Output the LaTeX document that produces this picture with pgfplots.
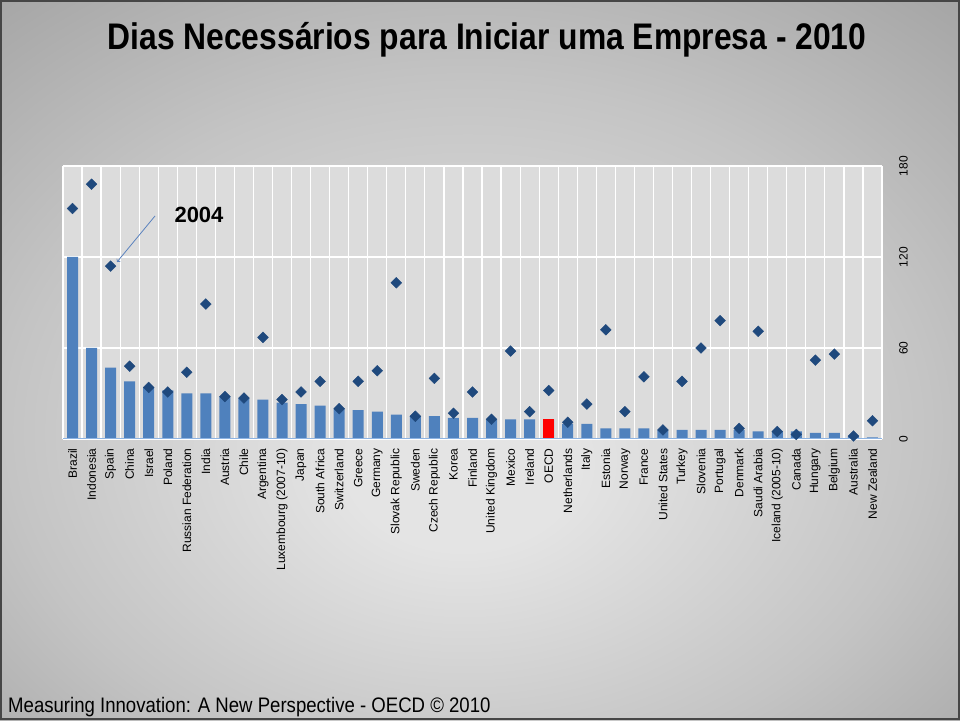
\documentclass[border=0pt]{standalone}
\usepackage{fontspec}
\setmainfont{Liberation Sans}
\newfontfamily\narrowfont[FakeStretch=0.86]{Liberation Sans}
\newfontfamily\footfont[FakeStretch=0.885]{Liberation Sans}
\usepackage{pgfplots}
\pgfplotsset{compat=1.18}
\usepackage{pgfplotstable}

\definecolor{barblue}{RGB}{79,129,189}
\definecolor{diadark}{RGB}{31,73,125}
\definecolor{plotbg}{RGB}{220,220,220}
\definecolor{baseblue}{RGB}{142,180,227}
\definecolor{arrowblue}{RGB}{90,130,190}
\definecolor{bginner}{RGB}{228,228,228}
\definecolor{bgmid}{RGB}{196,196,196}
\definecolor{bgouter}{RGB}{160,160,160}
\definecolor{frame}{RGB}{70,70,70}

\pgfdeclareradialshading{bgshade}{\pgfpoint{-1bp}{-8bp}}{color(0bp)=(bginner); color(6bp)=(bginner); color(24bp)=(bgmid); color(40bp)=(bgouter); color(60bp)=(bgouter)}

\pgfplotstableread{
x y10 y04
0 120 152
1 60 168
2 47 114
3 38 48
4 34 34
5 32 31
6 30 44
7 30 89
8 28 28
9 27 27
10 26 67
11 24 26
12 23 31
13 22 38
14 20 20
15 19 38
16 18 45
17 16 103
18 15 15
19 15 40
20 14 17
21 14 31
22 13 13
23 13 58
24 13 18
25 13 32
26 10 11
27 10 23
28 7 72
29 7 18
30 7 41
31 6 6
32 6 38
33 6 60
34 6 78
35 6 7
36 5 71
37 5 5
38 5 3
39 4 52
40 4 56
41 2 2
42 1 12
}\datatable

\begin{document}
\begin{tikzpicture}[x=1pt,y=1pt]
\useasboundingbox (0,0) rectangle (960,720);
\shade[shading=bgshade] (0,0) rectangle (960,720);

\begin{axis}[
  at={(63pt,281pt)}, anchor=south west,
  scale only axis, width=819pt, height=273pt,
  xmin=-0.5, xmax=42.5, ymin=0, ymax=180,
  axis background/.style={fill=plotbg},
  axis line style={draw=none},
  xtick={0,...,42},
  xticklabels={Brazil,Indonesia,Spain,China,Israel,Poland,Russian Federation,India,Austria,Chile,Argentina,Luxembourg (2007-10),Japan,South Africa,Switzerland,Greece,Germany,Slovak Republic,Sweden,Czech Republic,Korea,Finland,United Kingdom,Mexico,Ireland,OECD,Netherlands,Italy,Estonia,Norway,France,United States,Turkey,Slovenia,Portugal,Denmark,Saudi Arabia,Iceland (2005-10),Canada,Hungary,Belgium,Australia,New Zealand},
  xticklabel style={yshift=-6pt, rotate=90, anchor=east, font=\fontsize{12}{12}\selectfont},
  minor xtick={-0.5,0.5,...,42.5},
  xminorgrids, minor x grid style={white, line width=1.2pt},
  major tick length=0pt, minor tick length=0pt,
  ytick={0,60,120,180},
  ymajorgrids, major y grid style={white, line width=1.2pt},
  ytick pos=right, yticklabel pos=right,
  yticklabel style={xshift=17pt, rotate=90, anchor=north, inner sep=0pt, font=\fontsize{12}{12}\selectfont},
  /pgf/number format/assume math mode=true,
  clip=false,
]
\addplot[ybar, bar width=11pt, bar shift=0pt, fill=barblue, draw=none] table[x=x,y=y10]{\datatable};
\addplot[ybar, bar width=11pt, bar shift=0pt, fill=red, draw=none] coordinates {(25,13)};
\draw[baseblue, line width=1pt] (axis cs:-0.5,0) -- (axis cs:42.5,0);
\addplot[only marks, mark=square*, mark size=3.8pt, mark options={rotate=45, fill=diadark, draw=diadark}] table[x=x,y=y04]{\datatable};
\end{axis}

\node[font=\narrowfont\bfseries\fontsize{37}{40}\selectfont] at (487,680) {Dias Necessários para Iniciar uma Empresa - 2010};
\node[anchor=base west, inner sep=0pt, font=\footfont\fontsize{21}{24}\selectfont] at (8,8) {Measuring Innovation: A New Perspective - OECD © 2010};
\node[font=\bfseries\fontsize{22}{24}\selectfont] at (199,505) {2004};
\draw[arrowblue, line width=0.8pt, ->] (155,504) -- (117,458);
\draw[frame, line width=2pt] (1,1) rectangle (959,719);
\end{tikzpicture}
\end{document}
